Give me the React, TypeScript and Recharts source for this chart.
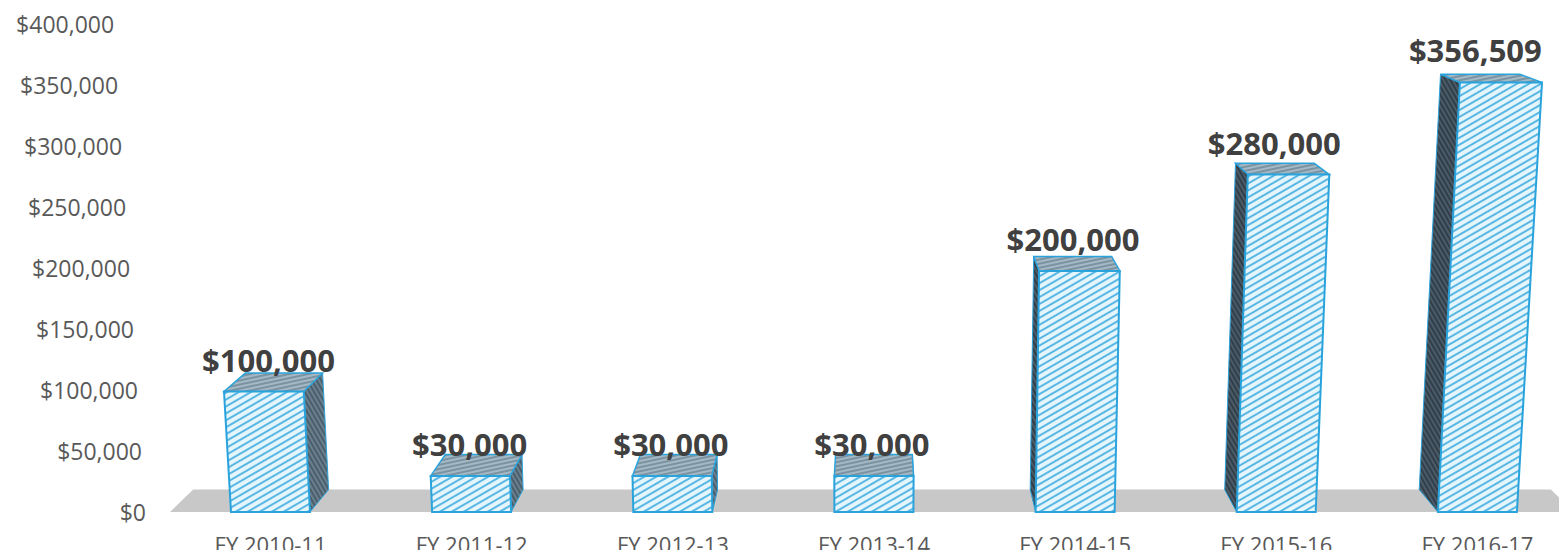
import React from 'react';
import { BarChart, Bar, XAxis, YAxis, LabelList, ReferenceArea } from 'recharts';

const CATEGORIES = ['FY 2010-11', 'FY 2011-12', 'FY 2012-13', 'FY 2013-14', 'FY 2014-15', 'FY 2015-16', 'FY 2016-17'];
const FUNDING = [100000, 30000, 30000, 30000, 200000, 280000, 356509];
const Y_TICKS = [0, 50000, 100000, 150000, 200000, 250000, 300000, 350000, 400000];

const data = CATEGORIES.map((c, i) => ({ year: c, amount: FUNDING[i] }));

// layout
const W = 1600;
const H = 558;
const MARGIN = { top: 30, right: 22, bottom: 16, left: 0 };
const Y_AXIS_W = 170;
const X_AXIS_H = 30;
const PLOT_LEFT = MARGIN.left + Y_AXIS_W;
const PLOT_RIGHT = W - MARGIN.right;
const BASE = H - MARGIN.bottom - X_AXIS_H;

// fake 3d perspective: depth recedes toward (VX, VY), verticals lean outwards
const VX = (PLOT_LEFT + PLOT_RIGHT) / 2;
const VY = -167;
const DEPTH = 0.033;
const SHEAR = 11000;

const FONT = '"Open Sans", sans-serif';
const money = (v: number) => '$' + v.toLocaleString('en-US');

type Pt = [number, number];
const front = (x: number, y: number): Pt => [x + ((x - VX) * (BASE - y)) / SHEAR, y];
const back = (p: Pt): Pt => [VX + (p[0] - VX) * (1 - DEPTH), VY + (p[1] - VY) * (1 - DEPTH)];
const poly = (pts: Pt[]) => pts.map(p => p[0].toFixed(1) + ',' + p[1].toFixed(1)).join(' ');

function Box3D(props: any) {
  const { x, y, width, height } = props;
  if (width == null || height == null) return null;
  const fbl = front(x, y + height);
  const fbr = front(x + width, y + height);
  const ftl = front(x, y);
  const ftr = front(x + width, y);
  const btl = back(ftl);
  const btr = back(ftr);
  const bbl = back(fbl);
  const bbr = back(fbr);
  const leftOfCenter = x + width / 2 < VX;
  const side = leftOfCenter ? [ftr, btr, bbr, fbr] : [ftl, btl, bbl, fbl];
  return (
    <g>
      <polygon points={poly(side)} fill={leftOfCenter ? 'url(#hSideL)' : 'url(#hSideR)'} stroke="#2aa3dc" strokeWidth={1} />
      <polygon points={poly([ftl, ftr, btr, btl])} fill="url(#hTop)" stroke="#2aa3dc" strokeWidth={1.5} />
      <polygon points={poly([fbl, fbr, ftr, ftl])} fill="url(#hFront)" stroke="#2aa3dc" strokeWidth={2} />
    </g>
  );
}

function Floor(props: any) {
  const { x, y, width, height } = props;
  const bottom = y + height;
  const l: Pt = [x, bottom];
  const r: Pt = [x + width - 4, bottom];
  return <polygon points={poly([l, r, back(r), back(l)])} fill="#c8c8c8" />;
}

function YTick(props: any) {
  const { y, payload } = props;
  const xr = 146 + ((146 - VX) * (BASE - y)) / SHEAR;
  return (
    <text x={xr} y={y - (BASE - y) * 0.0125} textAnchor="end" dominantBaseline="central"
      fontFamily={FONT} fontSize={23} fill="#595959">
      {money(payload.value)}
    </text>
  );
}

function XTick(props: any) {
  const { x, payload } = props;
  return (
    <text x={x} y={BASE + 41} textAnchor="middle"
      fontFamily={FONT} fontSize={22} fill="#595959">
      {payload.value}
    </text>
  );
}

function ValueLabel(props: any) {
  const { x, y, width, value } = props;
  return (
    <text x={x + width / 2 - 2} y={y - 20} textAnchor="middle"
      fontFamily={FONT} fontSize={31} fontWeight={700} fill="#404040">
      {money(value)}
    </text>
  );
}

export default function App() {
  return (
    <div style={{ margin: -8, width: 1567, height: 558, overflow: 'hidden', position: 'relative', background: '#fff' }}>
      <svg width={0} height={0} style={{ position: 'absolute' }}>
        <defs>
          <pattern id="hFront" width={6} height={6} patternUnits="userSpaceOnUse" patternTransform="rotate(-30)">
            <rect width={6} height={6} fill="#e4f5fc" />
            <line x1={0} y1={3} x2={6} y2={3} stroke="#2aa3dc" strokeWidth={1.5} />
          </pattern>
          <pattern id="hSideL" width={4} height={4} patternUnits="userSpaceOnUse" patternTransform="rotate(60)">
            <rect width={4} height={4} fill="#4a5e6b" />
            <line x1={0} y1={2} x2={4} y2={2} stroke="#8aa2b1" strokeWidth={1} />
          </pattern>
          <pattern id="hSideR" width={4} height={4} patternUnits="userSpaceOnUse" patternTransform="rotate(60)">
            <rect width={4} height={4} fill="#323f48" />
            <line x1={0} y1={2} x2={4} y2={2} stroke="#62798a" strokeWidth={1} />
          </pattern>
          <pattern id="hTop" width={4} height={4} patternUnits="userSpaceOnUse" patternTransform="rotate(-12)">
            <rect width={4} height={4} fill="#a4b9c5" />
            <line x1={0} y1={2} x2={4} y2={2} stroke="#5f7888" strokeWidth={1.2} />
          </pattern>
        </defs>
      </svg>
      <BarChart width={W} height={H} data={data} margin={MARGIN}>
        <XAxis dataKey="year" height={X_AXIS_H} axisLine={false} tickLine={false} tick={<XTick />} interval={0} />
        <YAxis width={Y_AXIS_W} domain={[0, 400000]} ticks={Y_TICKS} axisLine={false} tickLine={false} tick={<YTick />} />
        <ReferenceArea y1={0} y2={20000} shape={<Floor />} isFront={false} />
        <Bar dataKey="amount" barSize={79} shape={<Box3D />} isAnimationActive={false}>
          <LabelList dataKey="amount" content={<ValueLabel />} />
        </Bar>
      </BarChart>
    </div>
  );
}
